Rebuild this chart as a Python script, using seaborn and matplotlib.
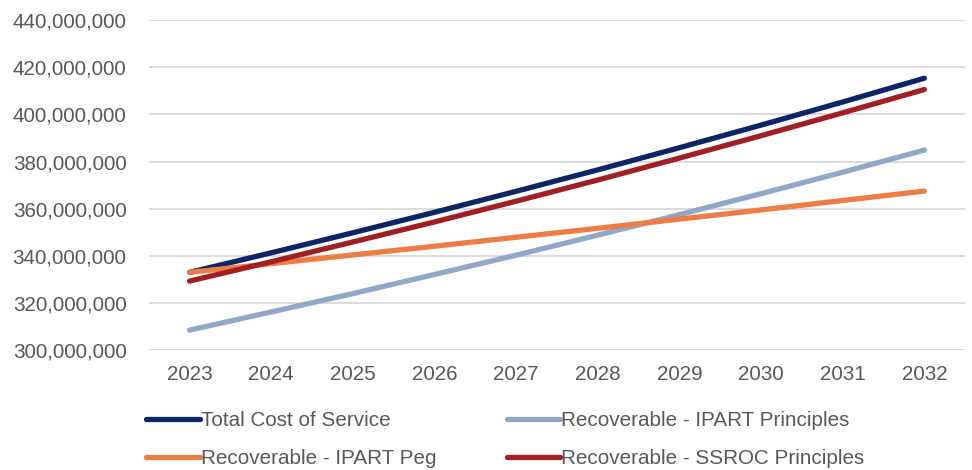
import matplotlib
matplotlib.use("Agg")
import matplotlib.pyplot as plt
import seaborn as sns
import pandas as pd
from matplotlib.ticker import FuncFormatter

sns.set_theme(style="white")
plt.rcParams['font.family'] = ['Liberation Sans', 'DejaVu Sans']

# values (millions)
years = [2023, 2024, 2025, 2026, 2027, 2028, 2029, 2030, 2031, 2032]
total_cost = [333.0, 341.3, 349.8, 358.5, 367.4, 376.5, 385.9, 395.5, 405.3, 415.4]
ipart_principles = [308.5, 316.2, 324.0, 332.1, 340.3, 348.8, 357.5, 366.4, 375.5, 384.9]
ipart_peg = [333.0, 336.7, 340.4, 344.1, 347.9, 351.7, 355.6, 359.5, 363.5, 367.5]
ssroc_principles = [329.3, 337.5, 345.9, 354.4, 363.2, 372.2, 381.5, 391.0, 400.7, 410.6]

series = {
    "Total Cost of Service": total_cost,
    "Recoverable - IPART Principles": ipart_principles,
    "Recoverable - IPART Peg": ipart_peg,
    "Recoverable - SSROC Principles": ssroc_principles,
}
colors = {
    "Total Cost of Service": "#0B2566",
    "Recoverable - IPART Principles": "#8FA8C6",
    "Recoverable - IPART Peg": "#EB7D45",
    "Recoverable - SSROC Principles": "#A11F24",
}

rows = []
for name, vals in series.items():
    for y, v in zip(years, vals):
        rows.append({"Year": y, "Value": v * 1e6, "Series": name})
df = pd.DataFrame(rows)

fig = plt.figure(figsize=(9.72, 4.70), dpi=100)
ax = fig.add_axes([0.153, 0.255, 0.840, 0.702])

sns.lineplot(data=df, x="Year", y="Value", hue="Series", hue_order=list(series.keys()),
             palette=colors, linewidth=3.8, ax=ax, legend=False, zorder=3,
             solid_capstyle="round")

ax.set_xlim(2022.5, 2032.5)
ax.set_ylim(300e6, 440e6)
ax.set_yticks(range(300000000, 440000001, 20000000))
ax.set_xticks(years)
ax.yaxis.set_major_formatter(FuncFormatter(lambda v, p: f"{int(v):,}"))
ax.grid(axis="y", color="#D9D9D9", linewidth=1.3, zorder=0)
ax.grid(axis="x", visible=False)
for s in ax.spines.values():
    s.set_visible(False)
ax.tick_params(axis="y", length=0, pad=16, labelsize=14.9, labelcolor="#595959")
ax.tick_params(axis="x", length=0, pad=11, labelsize=14.9, labelcolor="#595959")
ax.set_xlabel("")
ax.set_ylabel("")

# legend: row-wise order
order = ["Total Cost of Service", "Recoverable - IPART Peg",
         "Recoverable - IPART Principles", "Recoverable - SSROC Principles"]
handles = [plt.Line2D([], [], color=colors[n], linewidth=3.8, solid_capstyle="round") for n in order]
leg = fig.legend(handles, order, loc="upper left", bbox_to_anchor=(0.150, 0.126),
                 ncol=2, frameon=False, fontsize=14.9, handlelength=2.6,
                 handletextpad=0.05, columnspacing=3.4, labelspacing=0.95,
                 borderaxespad=0, borderpad=0)
for t in leg.get_texts():
    t.set_color("#595959")

fig.savefig("out.png", dpi=100)
